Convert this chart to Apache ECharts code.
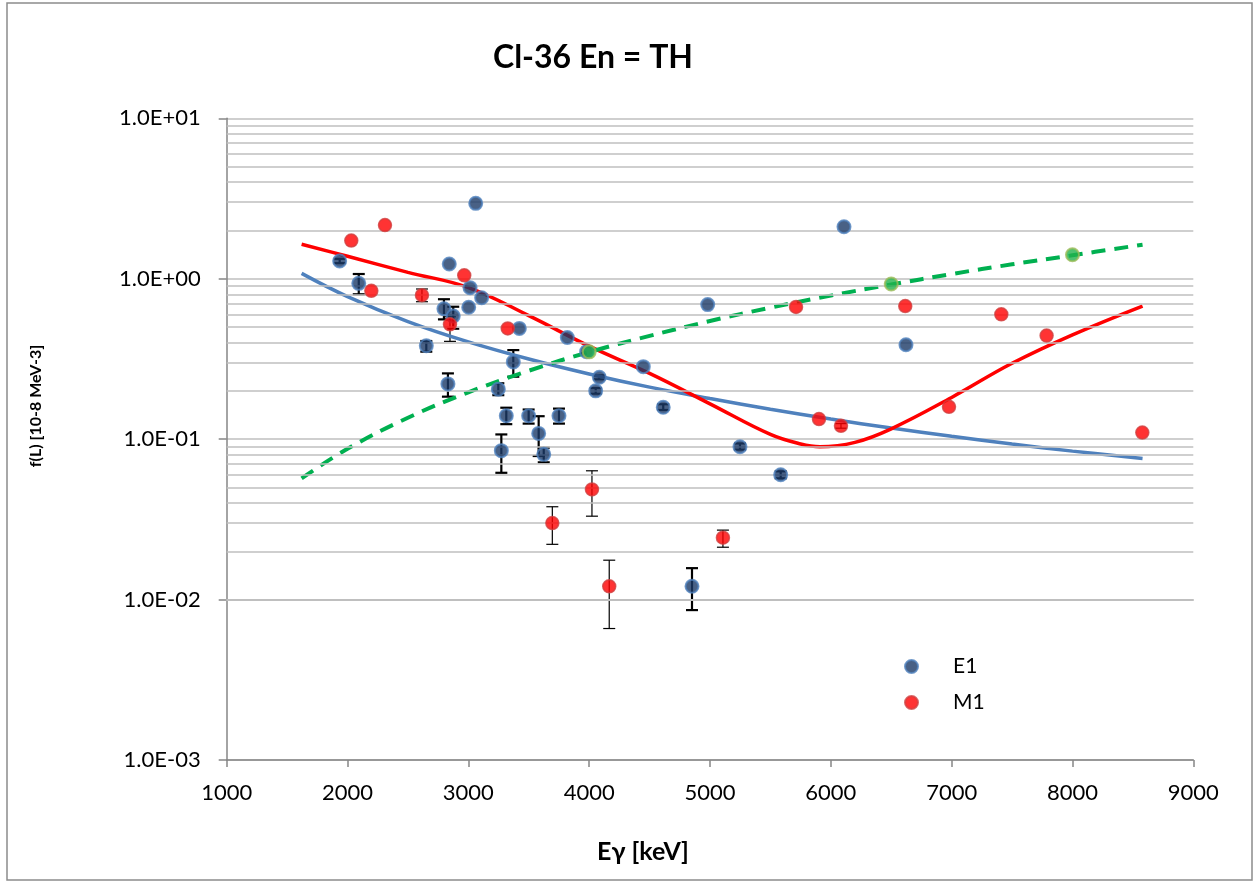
<!DOCTYPE html>
<html>
<head>
<meta charset="utf-8">
<script src="https://cdn.jsdelivr.net/npm/echarts@6/dist/echarts.min.js"></script>
<style>
  html, body { margin: 0; padding: 0; background: #fff; }
  #chart { width: 1257px; height: 884px; }
</style>
</head>
<body>
<div id="chart"></div>
<script>
// E1 strengths: gamma energy [keV], value, error-bar low / high (null = no bar)
const e1Energy = [1935, 2093, 2652, 2798, 2831, 2842, 2875, 3003, 3014, 3061, 3110, 3248, 3273, 3314, 3372, 3422,
                  3499, 3582, 3624, 3750, 3819, 3979, 4054, 4084, 4448, 4613, 4851, 4981, 5248, 5585, 6109, 6622];
const e1Value  = [1.29, 0.936, 0.382, 0.65, 0.221, 1.235, 0.585, 0.664, 0.88, 2.95, 0.761, 0.205, 0.0848, 0.14, 0.303, 0.49,
                  0.14, 0.1086, 0.0804, 0.14, 0.43, 0.351, 0.200, 0.243, 0.283, 0.158, 0.0121, 0.69, 0.0897, 0.060, 2.11, 0.388];
const e1Low    = [1.25, 0.80, 0.351, 0.558, 0.184, null, 0.488, null, null, null, null, 0.188, 0.0617, 0.124, 0.245, null,
                  0.125, 0.0785, 0.0717, 0.125, null, null, 0.192, 0.236, null, 0.152, 0.0086, null, 0.086, 0.057, null, null];
const e1High   = [1.33, 1.07, 0.409, 0.745, 0.257, null, 0.669, null, null, null, null, 0.223, 0.107, 0.157, 0.359, null,
                  0.153, 0.139, 0.0884, 0.155, null, null, 0.208, 0.25, null, 0.165, 0.0157, null, 0.094, 0.063, null, null];

// M1 strengths
const m1Energy = [2031, 2197, 2310, 2616, 2848, 2966, 3326, 3695, 4023, 4166, 5107, 5712, 5902, 6084, 6616, 6978, 7411, 7786, 8578];
const m1Value  = [1.73, 0.84, 2.16, 0.79, 0.52, 1.05, 0.49, 0.030, 0.0486, 0.0121, 0.0243, 0.667, 0.1334, 0.121, 0.676, 0.159, 0.60, 0.442, 0.110];
const m1Low    = [null, null, null, 0.719, 0.407, null, null, 0.0221, 0.0331, 0.0066, 0.0212, null, null, 0.117, null, null, null, null, null];
const m1High   = [null, null, null, 0.863, 0.579, null, null, 0.0379, 0.0635, 0.0176, 0.0271, null, null, 0.125, null, null, null, null, null];

// extra points (green)
const gEnergy = [4000, 6500, 8000];
const gValue  = [0.35, 0.927, 1.41];

// fitted curves
const blueCurveE = [1620, 2000, 2500, 3000, 3500, 4000, 4500, 5000, 5500, 6000, 6500, 7000, 7500, 8000, 8580];
const blueCurveV = [1.08, 0.774, 0.541, 0.404, 0.316, 0.255, 0.211, 0.179, 0.1535, 0.1334, 0.1173, 0.1043, 0.0933, 0.0842, 0.0758];

const redCurveE = [1620, 2000, 2500, 3000, 3500, 4000, 4500, 5000, 5500, 5750, 5910, 6200, 6500, 7000, 7500, 8000, 8580];
const redCurveV = [1.64, 1.38, 1.096, 0.881, 0.589, 0.380, 0.257, 0.166, 0.107, 0.0933, 0.0897, 0.0955, 0.116, 0.182, 0.297, 0.447, 0.676];

const greenCurveE = [1620, 2000, 2500, 3000, 3500, 4000, 4500, 5000, 5500, 6000, 6500, 7000, 7500, 8000, 8580];
const greenCurveV = [0.057, 0.087, 0.136, 0.196, 0.267, 0.349, 0.44, 0.545, 0.66, 0.785, 0.92, 1.07, 1.23, 1.40, 1.63];

// axis ticks
const xTicks = [1000, 2000, 3000, 4000, 5000, 6000, 7000, 8000, 9000];
const yDecades = [0.001, 0.01, 0.1, 1, 10];

const FONT = 'Lato, "Open Sans", sans-serif';
const GRID_COLOR = '#bfbfbf';

const zip = (a, b) => a.map((v, i) => [v, b[i]]);
const bars = (e, lo, hi) => e.map((v, i) => [v, lo[i], hi[i]]).filter(d => d[1] != null);

// minor gridlines 2..9 within each decade
const minorLines = [];
for (let d = 0; d < yDecades.length - 1; d++) {
  for (let k = 2; k <= 9; k++) minorLines.push({ yAxis: +(yDecades[d] * k).toPrecision(3) });
}

function errorBarRenderer(width, capHalf) {
  return function (params, api) {
    const x = api.value(0);
    const pLo = api.coord([x, api.value(1)]);
    const pHi = api.coord([x, api.value(2)]);
    const style = { stroke: '#000', lineWidth: width };
    return {
      type: 'group',
      children: [
        { type: 'line', shape: { x1: pLo[0], y1: pLo[1], x2: pHi[0], y2: pHi[1] }, style },
        { type: 'line', shape: { x1: pLo[0] - capHalf, y1: pLo[1], x2: pLo[0] + capHalf, y2: pLo[1] }, style },
        { type: 'line', shape: { x1: pHi[0] - capHalf, y1: pHi[1], x2: pHi[0] + capHalf, y2: pHi[1] }, style }
      ]
    };
  };
}

function expLabel(v) {
  const exp = Math.round(Math.log10(v));
  const sign = exp < 0 ? '-' : '+';
  const a = Math.abs(exp);
  return '1.0E' + sign + (a < 10 ? '0' + a : a);
}

const chart = echarts.init(document.getElementById('chart'), null, { renderer: 'canvas' });

chart.setOption({
  animation: false,
  backgroundColor: '#fff',
  grid: { left: 226.7, right: 63.7, top: 118.3, bottom: 124, containLabel: false },
  xAxis: {
    type: 'value',
    min: xTicks[0],
    max: xTicks[xTicks.length - 1],
    interval: 1000,
    axisLine: { show: true, onZero: false, lineStyle: { color: '#868686', width: 1.5 } },
    axisTick: { show: true, length: 7, lineStyle: { color: '#868686', width: 1.5 } },
    axisLabel: { color: '#000', fontFamily: FONT, fontSize: 22, margin: 22, formatter: v => String(v) },
    splitLine: { show: false }
  },
  yAxis: {
    type: 'log',
    logBase: 10,
    min: yDecades[0],
    max: yDecades[yDecades.length - 1],
    axisLine: { show: true, lineStyle: { color: '#868686', width: 1.5 } },
    axisTick: { show: true, length: 8, lineStyle: { color: '#868686', width: 1.5 } },
    axisLabel: { color: '#000', fontFamily: FONT, fontSize: 22, margin: 26, formatter: expLabel },
    splitLine: { show: true, lineStyle: { color: GRID_COLOR, width: 1.5 } }
  },
  legend: {
    data: ['E1', 'M1'],
    orient: 'vertical',
    left: 899,
    top: 651,
    itemWidth: 13,
    itemHeight: 13,
    itemGap: 15,
    icon: 'circle',
    textStyle: { fontFamily: FONT, fontSize: 21, color: '#000', padding: [0, 0, 0, 30] }
  },
  graphic: [
    { type: 'rect', shape: { x: 7, y: 3, width: 1245, height: 877 },
      style: { fill: 'none', stroke: '#8c8c8c', lineWidth: 1.5 }, z: -10, silent: true },
    { type: 'text', x: 593, y: 58,
      style: { text: 'Cl-36 En = TH', fontFamily: FONT, fontSize: 32, fontWeight: 'bold', fill: '#000',
               textAlign: 'center', textVerticalAlign: 'middle' } },
    { type: 'text', x: 643, y: 852,
      style: { text: 'Eγ [keV]', fontFamily: FONT, fontSize: 25, fontWeight: 'bold', fill: '#000',
               textAlign: 'center', textVerticalAlign: 'middle' } },
    { type: 'text', x: 36, y: 406, rotation: Math.PI / 2,
      style: { text: 'f(L) [10-8 MeV-3]', fontFamily: FONT, fontSize: 16, fontWeight: 'bold', fill: '#000',
               textAlign: 'center', textVerticalAlign: 'middle' } }
  ],
  series: [
    {
      name: 'minor-grid',
      type: 'line',
      data: [],
      z: 1,
      silent: true,
      markLine: {
        silent: true,
        symbol: ['none', 'none'],
        label: { show: false },
        lineStyle: { color: GRID_COLOR, width: 1.5, type: 'solid' },
        emphasis: { disabled: true },
        data: minorLines
      }
    },
    {
      name: 'E1-err', type: 'custom', z: 3, silent: true,
      renderItem: errorBarRenderer(2.2, 6),
      encode: { x: 0, y: [1, 2] },
      data: bars(e1Energy, e1Low, e1High)
    },
    {
      name: 'M1-err', type: 'custom', z: 3, silent: true,
      renderItem: errorBarRenderer(1.2, 6),
      encode: { x: 0, y: [1, 2] },
      data: bars(m1Energy, m1Low, m1High)
    },
    {
      name: 'E1 fit', type: 'line', z: 4, smooth: 0.4, symbol: 'none',
      lineStyle: { color: '#4f81bd', width: 3.5 },
      data: zip(blueCurveE, blueCurveV)
    },
    {
      name: 'M1 fit', type: 'line', z: 4, smooth: 0.4, symbol: 'none',
      lineStyle: { color: '#ff0000', width: 3.5 },
      data: zip(redCurveE, redCurveV)
    },
    {
      name: 'trend', type: 'line', z: 4, smooth: 0.4, symbol: 'none',
      lineStyle: { color: '#00b050', width: 4, type: [14, 9] },
      data: zip(greenCurveE, greenCurveV)
    },
    {
      name: 'E1', type: 'scatter', z: 5, symbol: 'circle', symbolSize: 13,
      itemStyle: { color: '#1c3a66', borderColor: '#4f81bd', borderWidth: 2 },
      data: zip(e1Energy, e1Value)
    },
    {
      name: 'M1', type: 'scatter', z: 5, symbol: 'circle', symbolSize: 13,
      itemStyle: { color: '#ff0000', borderColor: '#d04040', borderWidth: 1.5 },
      data: zip(m1Energy, m1Value)
    },
    {
      name: 'extra', type: 'scatter', z: 6, symbol: 'circle', symbolSize: 13,
      itemStyle: { color: '#22b14c', borderColor: '#9bbb59', borderWidth: 2 },
      data: zip(gEnergy, gValue)
    }
  ]
});
</script>
</body>
</html>
